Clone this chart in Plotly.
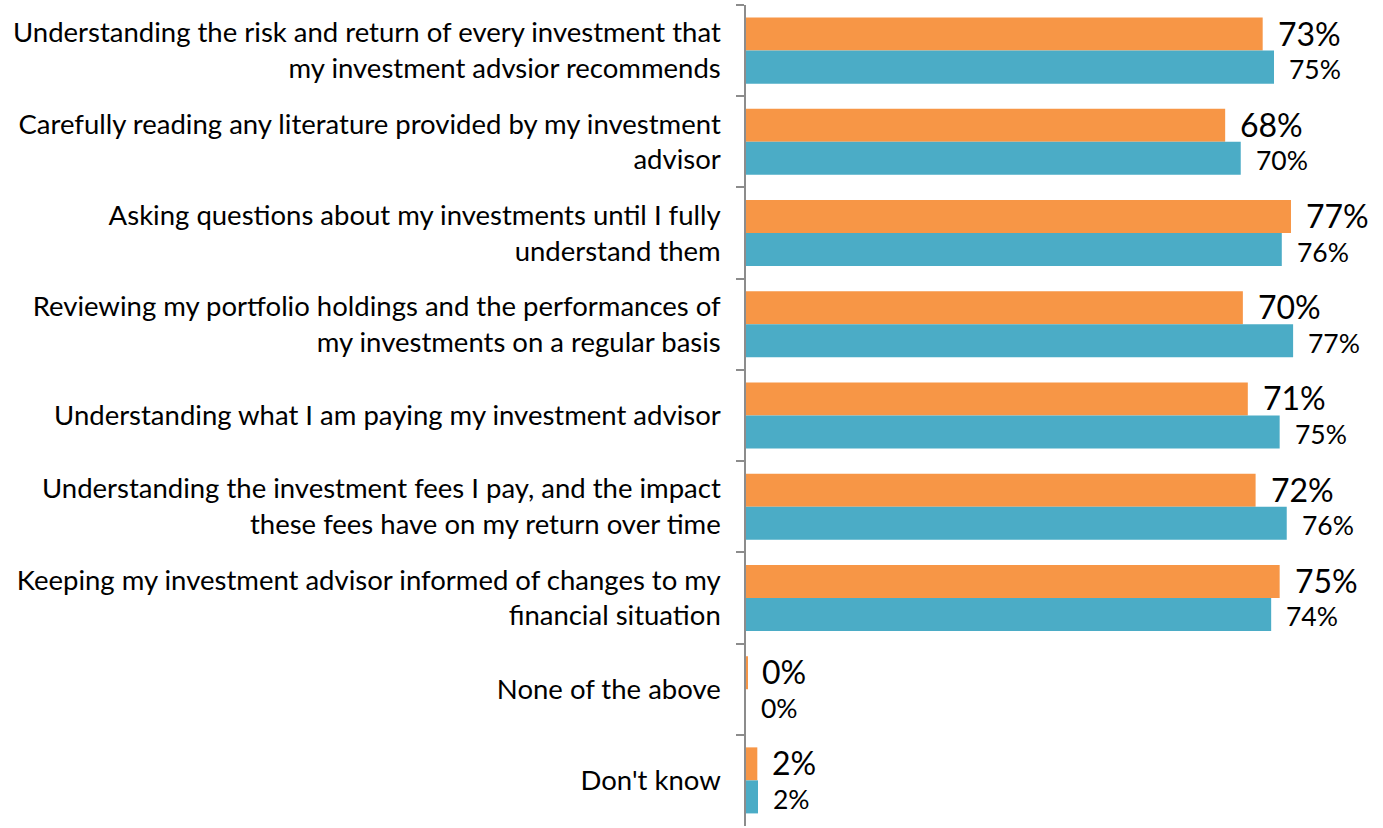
import plotly.graph_objects as go

categories = [
    "Understanding the risk and return of every investment that<br>my investment advsior recommends",
    "Carefully reading any literature provided by my investment<br>advisor",
    "Asking questions about my investments until I fully<br>understand them",
    "Reviewing my portfolio holdings and the performances of<br>my investments on a regular basis",
    "Understanding what I am paying my investment advisor",
    "Understanding the investment fees I pay, and the impact<br>these fees have on my return over time",
    "Keeping my investment advisor informed of changes to my<br>financial situation",
    "None of the above",
    "Don't know",
]
orange_values = [73.0, 67.7, 77.0, 70.2, 70.9, 72.0, 75.4, 0.2, 1.6]
orange_labels = ["73%", "68%", "77%", "70%", "71%", "72%", "75%", "0%", "2%"]
teal_values = [74.6, 69.9, 75.7, 77.3, 75.4, 76.4, 74.2, 0.0, 1.7]
teal_labels = ["75%", "70%", "76%", "77%", "75%", "76%", "74%", "0%", "2%"]

ORANGE = "#F79646"
TEAL = "#4BACC6"
FONT = "Lato"
BARGAP = 0.276

fig = go.Figure()
fig.add_trace(go.Bar(y=categories, x=orange_values, orientation="h",
                     marker=dict(color=ORANGE, line=dict(width=0)), name="A"))
fig.add_trace(go.Bar(y=categories, x=teal_values, orientation="h",
                     marker=dict(color=TEAL, line=dict(width=0)), name="B"))

off = (1 - BARGAP) / 4
annotations = []
for i, (v, t) in enumerate(zip(orange_values, orange_labels)):
    annotations.append(dict(x=v, y=i - off, text=t, xref="x", yref="y",
                            xanchor="left", yanchor="middle", showarrow=False,
                            xshift=13, yshift=1, font=dict(family=FONT, size=32, color="#000")))
for i, (v, t) in enumerate(zip(teal_values, teal_labels)):
    annotations.append(dict(x=v, y=i + off, text=t, xref="x", yref="y",
                            xanchor="left", yanchor="middle", showarrow=False,
                            xshift=13, yshift=-2, font=dict(family=FONT, size=26.5, color="#000")))

fig.update_layout(
    width=1383, height=828,
    margin=dict(l=746, r=0, t=5, b=2),
    barmode="group", bargap=BARGAP, bargroupgap=0,
    plot_bgcolor="white", paper_bgcolor="white",
    showlegend=False,
    font=dict(family=FONT, size=27.5, color="#000"),
    annotations=annotations,
)
fig.update_xaxes(range=[0, 90], visible=False, showgrid=False, zeroline=False)
fig.update_yaxes(
    autorange="reversed", type="category",
    showline=True, linecolor="#8c8c8c", linewidth=1.5,
    ticks="outside", tickson="boundaries", ticklen=8, tickcolor="#8c8c8c", tickwidth=1.5,
    ticklabelstandoff=18, showgrid=False,
    tickfont=dict(family=FONT, size=27.5, color="#000"),
)
fig.write_html("out.html", config={"displayModeBar": False},
               post_script="document.body.style.margin='0';document.body.style.overflow='hidden';")
